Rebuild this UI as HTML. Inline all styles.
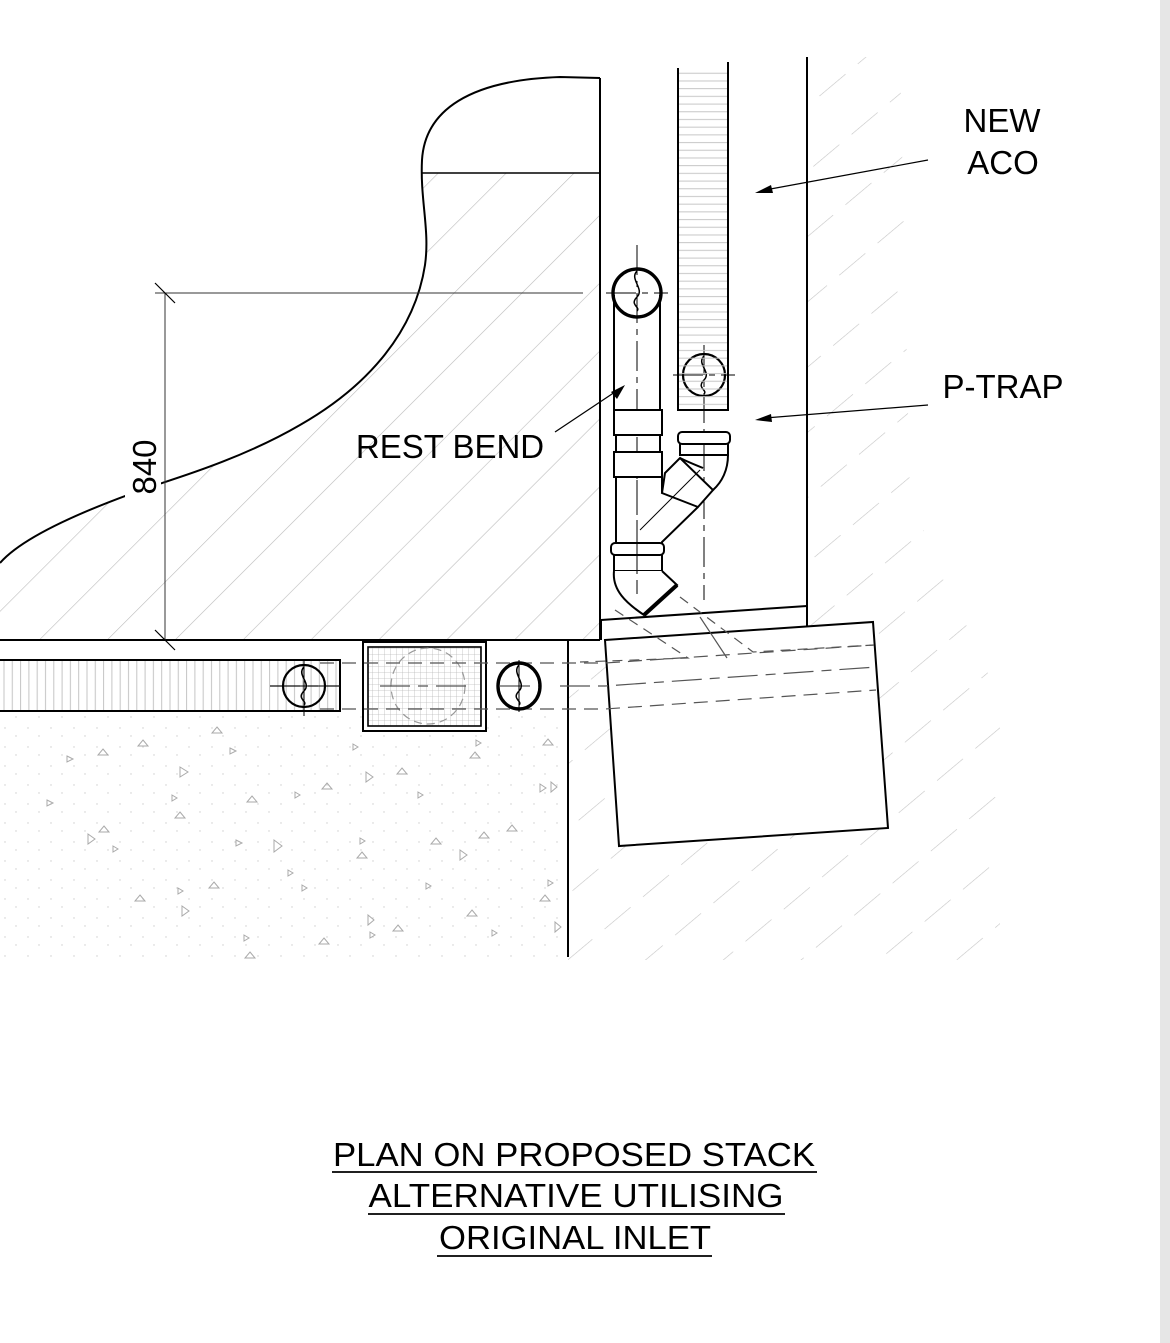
<!DOCTYPE html>
<html><head><meta charset="utf-8"><style>html,body{margin:0;padding:0;background:#fff}svg{display:block}</style></head><body>
<svg width="1170" height="1343" viewBox="0 0 1170 1343" xmlns="http://www.w3.org/2000/svg" font-family="Liberation Sans, Arial, sans-serif">
<defs>
<pattern id="h1" patternUnits="userSpaceOnUse" width="48" height="48" patternTransform="rotate(45)">
<line x1="0" y1="0" x2="0" y2="48" stroke="#bbb" stroke-width="1.2"/></pattern>
<pattern id="h2" patternUnits="userSpaceOnUse" width="50" height="50" patternTransform="rotate(50)">
<line x1="0" y1="0" x2="0" y2="34" stroke="#c4c4c4" stroke-width="1.2"/></pattern>
<pattern id="hv" patternUnits="userSpaceOnUse" width="8.3" height="50"><line x1="4" y1="0" x2="4" y2="50" stroke="#c4c4c4" stroke-width="1"/></pattern>
<pattern id="hh" patternUnits="userSpaceOnUse" width="50" height="7.7"><line x1="0" y1="4" x2="50" y2="4" stroke="#c4c4c4" stroke-width="1"/></pattern>
<pattern id="grid" patternUnits="userSpaceOnUse" width="6" height="6"><path d="M0 0H6M0 0V6" stroke="#bbb" stroke-width="0.8" fill="none"/></pattern>
<pattern id="dots" patternUnits="userSpaceOnUse" width="23" height="19"><circle cx="5" cy="6" r="0.7" fill="#ccc"/><circle cx="16" cy="14" r="0.7" fill="#ccc"/></pattern>
</defs>
<rect x="1160" y="0" width="10" height="1343" fill="#e6e6e6"/>
<!-- top-left hatched region -->
<path d="M600 173 L600 640 L0 640 L0 563 C20 540 70 515 150 487 C170 480 240 460 300 425 C370 385 415 330 425 265 C430 230 420 200 422 173 Z" fill="url(#h1)"/>
<path d="M600 78 L560 77 C470 80 425 110 422 160 C420 200 430 230 425 265 C415 330 370 385 300 425 C240 460 170 480 150 487 C70 515 20 540 0 563" fill="none" stroke="#000" stroke-width="2"/>
<line x1="422" y1="173" x2="600" y2="173" stroke="#000" stroke-width="1.6"/>
<line x1="600" y1="78" x2="600" y2="640" stroke="#000" stroke-width="2"/>
<line x1="0" y1="640" x2="600" y2="640" stroke="#000" stroke-width="2"/>
<!-- dimension -->
<line x1="155" y1="293" x2="583" y2="293" stroke="#333" stroke-width="1"/>
<line x1="165" y1="293" x2="165" y2="640" stroke="#333" stroke-width="1"/>
<line x1="155" y1="283" x2="175" y2="303" stroke="#000" stroke-width="1.2"/>
<line x1="155" y1="630" x2="175" y2="650" stroke="#000" stroke-width="1.2"/>
<rect x="125" y="435" width="36" height="66" fill="#fff"/>
<text x="0" y="0" transform="translate(156,467) rotate(-90)" font-size="33" text-anchor="middle">840</text>
<!-- right hatching -->
<path d="M807 57 L900 57 L910 500 L1000 700 L1000 960 L568 960 L568 640 L605 640 L873 622 L888 828 L619 846 L605 640 L807 626 Z" fill="url(#h2)"/>
<polygon points="605,640 873,622 888,828 619,846" fill="#fff" stroke="#000" stroke-width="2"/>
<line x1="807" y1="57" x2="807" y2="626" stroke="#000" stroke-width="2"/>
<line x1="601" y1="620" x2="807" y2="606" stroke="#000" stroke-width="2"/>
<line x1="601" y1="620" x2="601" y2="640" stroke="#000" stroke-width="2"/>
<line x1="568" y1="640" x2="568" y2="957" stroke="#000" stroke-width="2"/>
<!-- concrete -->
<rect x="0" y="711" width="566" height="250" fill="url(#dots)"/>
<g fill="none" stroke="#aaa" stroke-width="1">
<path d="M67 756l6 3-6 3z"/><path d="M103 749l5 6h-10z"/><path d="M143 740l5 6h-10z"/><path d="M180 767l8 5-8 5z"/><path d="M217 727l5 6h-10z"/><path d="M230 748l6 3-6 3z"/><path d="M47 800l6 3-6 3z"/><path d="M88 834l7 5-7 5z"/><path d="M104 826l5 6h-10z"/><path d="M113 846l5 3-5 3z"/><path d="M172 795l5 3-5 3z"/><path d="M180 812l5 6h-10z"/><path d="M252 796l5 6h-10z"/><path d="M295 792l5 3-5 3z"/><path d="M327 783l5 6h-10z"/><path d="M366 772l7 5-7 5z"/><path d="M402 768l5 6h-10z"/><path d="M418 792l5 3-5 3z"/><path d="M236 840l6 3-6 3z"/><path d="M274 840l8 6-8 6z"/><path d="M360 838l5 3-5 3z"/><path d="M362 852l5 6h-10z"/><path d="M436 838l5 6h-10z"/><path d="M460 850l7 5-7 5z"/><path d="M484 832l5 6h-10z"/><path d="M512 825l5 6h-10z"/><path d="M548 739l5 6h-10z"/><path d="M540 784l6 4-6 4z"/><path d="M551 782l6 5-6 5z"/><path d="M353 744l5 3-5 3z"/><path d="M476 740l5 3-5 3z"/><path d="M475 752l5 6h-10z"/><path d="M140 895l5 6h-10z"/><path d="M178 888l5 3-5 3z"/><path d="M182 906l7 5-7 5z"/><path d="M214 882l5 6h-10z"/><path d="M288 870l5 3-5 3z"/><path d="M302 885l5 3-5 3z"/><path d="M368 915l6 5-6 5z"/><path d="M370 932l5 3-5 3z"/><path d="M398 925l5 6h-10z"/><path d="M426 883l5 3-5 3z"/><path d="M472 910l5 6h-10z"/><path d="M492 930l5 3-5 3z"/><path d="M548 880l5 3-5 3z"/><path d="M545 895l5 6h-10z"/><path d="M555 922l6 5-6 5z"/><path d="M244 935l5 3-5 3z"/><path d="M250 952l5 6h-10z"/><path d="M324 938l5 6h-10z"/></g>
<!-- horizontal drain -->
<rect x="0" y="660" width="340" height="51" fill="url(#hv)"/>
<rect x="-2" y="660" width="342" height="51" fill="none" stroke="#000" stroke-width="2"/>
<!-- grate -->
<rect x="363" y="642" width="123" height="89" fill="#fff" stroke="#000" stroke-width="2"/>
<rect x="368" y="647" width="113" height="79" fill="url(#grid)" stroke="#000" stroke-width="1.6"/>
<ellipse cx="428" cy="686" rx="37" ry="38" fill="none" stroke="#999" stroke-width="1.2" stroke-dasharray="8 5"/>
<!-- dashed centerlines -->
<g stroke="#555" stroke-width="1.2" fill="none">
<path d="M320 663 H605 L874 645" stroke-dasharray="14 8"/>
<path d="M320 709 H605 L876 690" stroke-dasharray="14 8"/>
<path d="M270 686 H340 M380 686 H470 M500 686 H540 M560 686 H605 L876 667" stroke-dasharray="30 8 10 8"/>
<path d="M615 610 L688 658 L580 662" stroke-dasharray="10 7"/>
<path d="M680 597 L753 652 L874 645" stroke-dasharray="10 7"/>
<path d="M700 617 L727 658"/>
</g>
<!-- circles on drain -->
<g fill="none" stroke="#000">
<circle cx="304" cy="686" r="21" stroke-width="2.2"/>
<ellipse cx="519" cy="686" rx="21" ry="23" stroke-width="3.4"/>
<circle cx="637" cy="293" r="24" stroke-width="3.4"/>
<circle cx="704" cy="375" r="21" stroke-width="2.2"/>
<g stroke-width="1.5"><path d="M304 667c-8 8 8 16 0 24s4 10 0 14"/><path d="M519 665c-8 8 8 18 0 26s4 10 0 14"/><path d="M637 271c-8 8 8 18 0 26s4 10 0 14"/><path d="M704 356c-8 8 8 16 0 24s4 10 0 14"/></g>
<g stroke-width="1"><path d="M304 660V716M270 686H340"/><path d="M519 660V712"/><path d="M637 245V600M606 293H668" stroke-dasharray="30 6 6 6"/><path d="M704 345V600M673 375H735" stroke-dasharray="30 6 6 6"/></g>
</g>
<!-- ACO channel -->
<rect x="678" y="68" width="50" height="342" fill="url(#hh)"/>
<path d="M678 68V410H728V62" fill="none" stroke="#000" stroke-width="2"/>
<!-- vertical pipe + fittings -->
<g fill="none" stroke="#000" stroke-width="2">
<path d="M614 295V410M660 295V410"/>
<path d="M616 435V452M660 435V452"/>
<rect x="614" y="410" width="48" height="25" fill="#fff"/>
<rect x="614" y="452" width="48" height="25" fill="#fff"/>
<path d="M616 477V545M662 477V493"/>
<path d="M662 493 L665 473 L680 458 L713 490 L698 507 Z" fill="#fff"/>
<path d="M698 507 L662 542 L662 545"/>
<rect x="678" y="432" width="52" height="12" rx="4" fill="#fff"/>
<path d="M680 444V455 H728 V444"/>
<path d="M680 458 C688 462 698 466 703 468"/>
<path d="M728 455 C728 470 722 482 713 490"/>
<rect x="611" y="543" width="53" height="12" rx="4" fill="#fff"/>
<path d="M614 555V571H662V555"/>
<path d="M614 571 C612 590 626 603 644 615 L677 585 L662 571" fill="#fff"/>
<path d="M644 615 L677 585" stroke-width="4"/>
</g>
<line x1="637" y1="480" x2="637" y2="600" stroke="#000" stroke-width="1" stroke-dasharray="14 6"/>
<line x1="640" y1="530" x2="700" y2="470" stroke="#000" stroke-width="1"/>
<!-- leaders -->
<g stroke="#000" stroke-width="1.2">
<line x1="928" y1="160" x2="765" y2="190"/><line x1="928" y1="405" x2="765" y2="418"/><line x1="555" y1="432" x2="615" y2="392"/></g>
<g fill="#000"><path d="M755 193 l16 -8 l2 8z"/><path d="M755 420 l16 -6 l1 8z"/><path d="M625 385 l-8 14 l-6 -7z"/></g>
<!-- labels -->
<g font-size="33" text-anchor="middle" fill="#000">
<text x="1002" y="132">NEW</text><text x="1003" y="174">ACO</text>
<text x="1003" y="398">P-TRAP</text>
<text x="450" y="458">REST BEND</text>
<text x="574" y="1166" textLength="482" lengthAdjust="spacingAndGlyphs">PLAN ON PROPOSED STACK</text>
<text x="576" y="1207" textLength="415" lengthAdjust="spacingAndGlyphs">ALTERNATIVE UTILISING</text>
<text x="575" y="1249" textLength="272" lengthAdjust="spacingAndGlyphs">ORIGINAL INLET</text>
</g>
<g stroke="#000" stroke-width="1.8"><line x1="332" y1="1172" x2="817" y2="1172"/><line x1="368" y1="1214" x2="785" y2="1214"/><line x1="437" y1="1256" x2="712" y2="1256"/></g>
</svg>
</body></html>
